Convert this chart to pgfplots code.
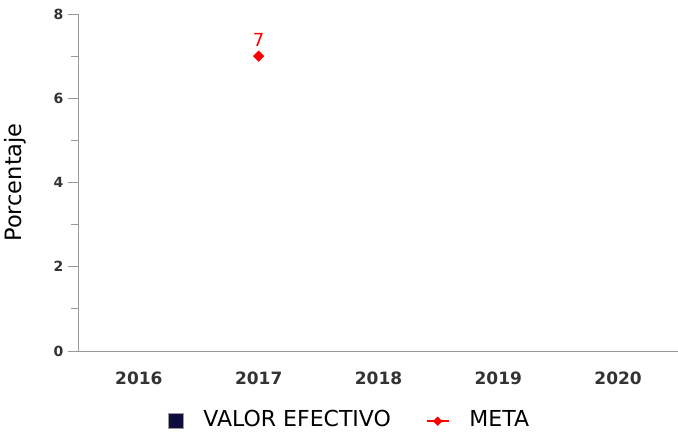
\documentclass[border=0pt]{standalone}
\usepackage{pgfplots}
\pgfplotsset{compat=1.18}
\usepackage{fontspec}
\setmainfont{DejaVu Sans}
\definecolor{navy}{HTML}{0E0C3F}
\definecolor{axgray}{HTML}{9A9A9A}
\definecolor{txt}{HTML}{333333}
\begin{document}
\begin{tikzpicture}
\useasboundingbox (-79pt,-81pt) rectangle (599pt,351pt);
\begin{axis}[
  at={(0pt,0pt)}, anchor=south west,
  scale only axis, width=599pt, height=337pt,
  clip=false,
  xmin=-0.5, xmax=4.5, ymin=0, ymax=8,
  xtick={0,1,2,3,4}, xticklabels={2016,2017,2018,2019,2020},
  ytick={0,2,4,6,8}, minor ytick={0,1,2,3,4,5,6,7,8},
  axis x line*=bottom, axis y line*=left,
  axis line style={axgray, line width=1pt},
  tick align=outside,
  ytick style={draw=axgray, line width=1pt},
  xtick style={draw=none},
  minor tick length=8pt,
  major tick length=11pt,
  /pgf/number format/assume math mode=true,
  yticklabel style={font=\fontsize{14}{14}\selectfont\bfseries, text=txt, xshift=-1pt},
  xticklabel style={font=\fontsize{17}{17}\selectfont\bfseries, text=txt, yshift=-6pt},
  ylabel={Porcentaje},
  ylabel style={at={(axis description cs:-0.107,0.5)}, anchor=center, font=\fontsize{22.5}{22.5}\selectfont, text=black},
  legend style={at={(axis description cs:0.45,-0.203)}, anchor=center, draw=none, fill=none,
    font=\fontsize{22}{22}\selectfont, legend columns=2, nodes={inner sep=0pt},
    /tikz/every odd column/.append style={column sep=20pt},
    /tikz/every even column/.append style={column sep=35pt}},
  legend cell align=left,
]
\addlegendimage{legend image code/.code={\fill[navy,draw=axgray,line width=0.5pt] (0pt,-9pt) rectangle (15pt,6pt);}}
\addlegendentry{VALOR EFECTIVO}
\addplot[red, line width=1pt, mark=square*, mark size=3.5pt, mark options={rotate=45},
  nodes near coords, every node near coord/.append style={font=\fontsize{18}{18}\selectfont, text=red, yshift=6pt},
  legend image code/.code={\draw[red, line width=1.5pt] (0pt,-2pt) -- (22pt,-2pt); \fill[red] (11pt,-2pt) +(0,4pt) -- +(4pt,0) -- +(0,-4pt) -- +(-4pt,0) -- cycle;}]
  coordinates {(1,7)};
\addlegendentry{META}
\end{axis}
\end{tikzpicture}
\end{document}
